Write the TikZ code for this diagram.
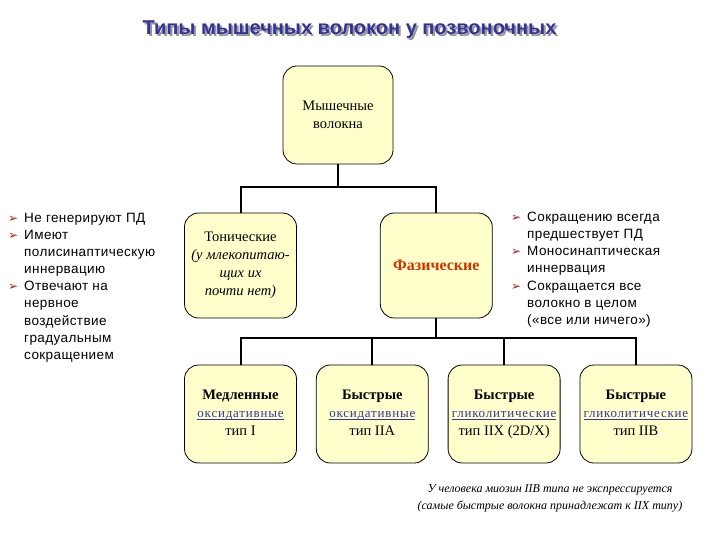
\documentclass[tikz,border=0pt]{standalone}
\usepackage{fontspec}
\setmainfont{Liberation Serif}
\newfontfamily\sansf[LetterSpace=3]{Liberation Sans}
\newfontfamily\titlef{Liberation Sans}
\newfontfamily\linkf[LetterSpace=6]{Liberation Serif}
\newfontfamily\symf{DejaVu Sans}
\usetikzlibrary{positioning}
\definecolor{colBox}  {RGB}{255,255,204}
\definecolor{colTitle}{RGB}{51,51,153}
\definecolor{colShade}{RGB}{150,150,150}
\definecolor{colPhase}{RGB}{204,51,0}
\definecolor{colLink} {RGB}{51,51,170}
\definecolor{colBul}  {RGB}{170,30,20}
\newcommand{\bul}{\makebox[16pt][l]{\textcolor{colBul}{\symf\fontsize{12}{12}\selectfont ➢}}}
\newcommand{\ind}{\hspace*{16pt}}
\newcommand{\lnk}[1]{{\color{colLink}\linkf\fontsize{13}{18}\selectfont
  \sbox0{#1}\rlap{\rule[-1.7pt]{\wd0}{0.6pt}}\usebox0}}
\newcommand{\fibre}[3]{\strut\textbf{#1}\\\lnk{#2}\\#3\strut}
\newcommand{\shadowed}[1]{\rlap{\hspace{2pt}\raisebox{-2pt}{\textcolor{colShade}{#1}}}\textcolor{colTitle}{#1}}
\tikzset{
  fbox/.style  = {draw, line width=0.8pt, rounded corners=14pt, fill=colBox,
                  align=center, inner sep=2pt, minimum width=112pt,
                  minimum height=98pt, font=\fontsize{14.5}{18}\selectfont},
  conn/.style  = {line width=2pt},
  notes/.style = {align=left, inner sep=0pt, anchor=north west,
                  font=\sansf\fontsize{13.5}{17.1}\selectfont},
}

\begin{document}
\begin{tikzpicture}[x=1pt, y=-1pt]
\useasboundingbox (0,0) rectangle (720,540);

%% -- title -------------------------------------------------------------------
\node[font=\titlef\bfseries\fontsize{20}{22}\selectfont]
  (title) at (349.5,31) {\shadowed{Типы мышечных волокон у позвоночных}};

%% -- boxes -------------------------------------------------------------------
\node[fbox, minimum width=110pt] (root) at (338,115) {Мышечные\\волокна};
\node[fbox, minimum height=105pt] (tonic) at (240.5,265.5)
  {Тонические\\\itshape (у млекопитаю-\\\itshape щих их\\\itshape почти нет)};
\node[fbox, minimum height=105pt, right=83pt of tonic] (phasic)
  {\textcolor{colPhase}{\bfseries\fontsize{16}{18}\selectfont Фазические}};

\node[fbox] (slow)  at (240.5,414) {\fibre{Медленные}{оксидативные}{тип I}};
\node[fbox, right=19pt of slow]  (fastA) {\fibre{Быстрые}{оксидативные}{тип IIA}};
\node[fbox, right=19pt of fastA] (fastX) {\fibre{Быстрые}{гликолитические}{тип IIX (2D/X)}};
\node[fbox, right=19pt of fastX] (fastB) {\fibre{Быстрые}{гликолитические}{тип IIB}};

%% -- connectors --------------------------------------------------------------
\coordinate (bus1) at (338,187);
\coordinate (bus2) at (phasic.south |- 0,338);
\draw[conn] (root.south) -- (bus1);
\draw[conn] (tonic.north) |- (bus1) -| (phasic.north);
\draw[conn] (phasic.south) -- (bus2);
\draw[conn] (slow.north) |- (bus2) -| (fastB.north);
\draw[conn] (fastA.north) |- (bus2);
\draw[conn] (fastX.north) |- (bus2);

%% -- side notes --------------------------------------------------------------
\node[notes] (tonicnotes) at (8,213)
  {\bul Не генерируют ПД\\
   \bul Имеют\\
   \ind полисинаптическую\\
   \ind иннервацию\\
   \bul Отвечают на\\
   \ind нервное\\
   \ind воздействие\\
   \ind градуальным\\
   \ind сокращением};
\node[notes] (phasicnotes) at (511,212)
  {\bul Сокращению всегда\\
   \ind предшествует ПД\\
   \bul Моносинаптическая\\
   \ind иннервация\\
   \bul Сокращается все\\
   \ind волокно в целом\\
   \ind («все или ничего»)};

%% -- footnote ----------------------------------------------------------------
\node[align=center, font=\itshape\fontsize{12}{17}\selectfont] (footnote) at (550,498)
  {У человека миозин IIB типа не экспрессируется\\
   (самые быстрые волокна принадлежат к IIX типу)};

\end{tikzpicture}
\end{document}
